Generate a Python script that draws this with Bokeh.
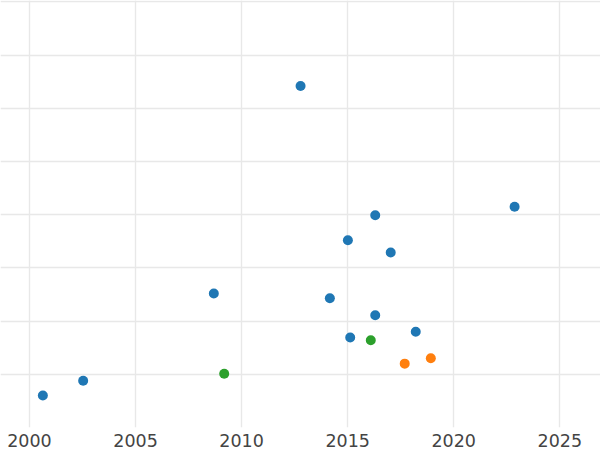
from bokeh.plotting import figure
from bokeh.models import ColumnDataSource, FixedTicker, Range1d
from bokeh.embed import file_html
from bokeh.resources import INLINE

# Series A (blue)
a_year = [2000.63, 2002.53, 2008.69, 2012.78, 2014.16, 2015.01, 2015.12,
          2016.30, 2016.30, 2017.03, 2018.21, 2022.87]
a_val = [0.60, 0.88, 2.52, 6.42, 2.43, 3.52, 1.69, 3.99, 2.11, 3.29, 1.80, 4.15]
# Series B (orange)
b_year = [2017.69, 2018.92]
b_val = [1.20, 1.30]
# Series C (green)
c_year = [2009.18, 2016.09]
c_val = [1.01, 1.64]

x_ticks = [2000, 2005, 2010, 2015, 2020, 2025]
y_grid = [0, 1, 2, 3, 4, 5, 6, 7, 8]

colors = {"a": "#1f77b4", "b": "#ff7f0e", "c": "#2ca02c"}

p = figure(width=600, height=450, output_backend="svg", toolbar_location=None,
           x_range=Range1d(1998.633, 2026.92), y_range=Range1d(0.0, 8.026),
           min_border_left=0, min_border_right=0, min_border_top=0,
           min_border_bottom=23)
p.outline_line_color = None
p.background_fill_color = "white"
p.border_fill_color = "white"

p.xaxis.ticker = FixedTicker(ticks=x_ticks)
p.yaxis.ticker = FixedTicker(ticks=y_grid)
p.yaxis.visible = False
p.xaxis.axis_line_color = None
p.xaxis.major_tick_line_color = None
p.xaxis.minor_tick_line_color = None
p.xaxis.major_tick_out = 0
p.xaxis.major_label_standoff = 6
p.xaxis.major_label_text_font = "DejaVu Sans"
p.xaxis.major_label_text_font_size = "17.5px"
p.xaxis.major_label_text_color = "#444444"

p.xgrid.grid_line_color = "#e8e8e8"
p.ygrid.grid_line_color = "#e8e8e8"
p.xgrid.grid_line_width = 1.4
p.ygrid.grid_line_width = 1.4
p.ygrid.ticker = FixedTicker(ticks=y_grid)
p.xgrid.ticker = FixedTicker(ticks=x_ticks)

for yr, v, key in [(a_year, a_val, "a"), (b_year, b_val, "b"), (c_year, c_val, "c")]:
    src = ColumnDataSource(dict(x=yr, y=v))
    p.scatter("x", "y", source=src, size=10, fill_color=colors[key],
              line_color=colors[key], line_width=0)

open("out.html", "w").write(file_html(p, INLINE))
